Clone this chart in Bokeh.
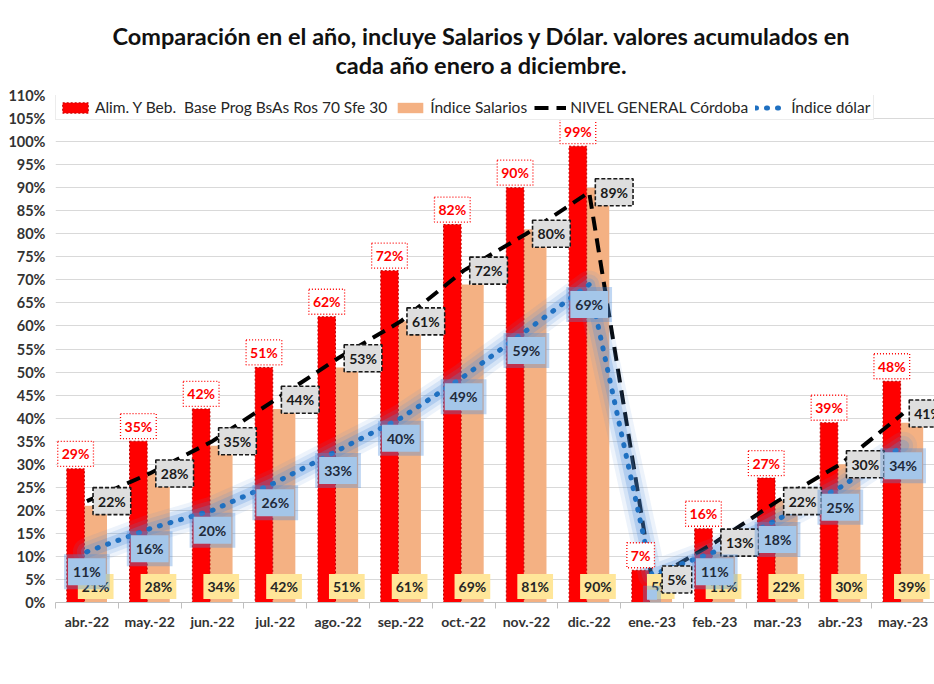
import numpy as np
from bokeh.plotting import figure
from bokeh.models import (Range1d, FixedTicker, PrintfTickFormatter, Legend,
                          LegendItem, Title)
from bokeh.core.properties import value
from bokeh.embed import file_html
from bokeh.resources import INLINE

months = ["abr.-22", "may.-22", "jun.-22", "jul.-22", "ago.-22", "sep.-22",
          "oct.-22", "nov.-22", "dic.-22", "ene.-23", "feb.-23", "mar.-23",
          "abr.-23", "may.-23"]
alim = [29, 35, 42, 51, 62, 72, 82, 90, 99, 7, 16, 27, 39, 48]
salarios = [21, 28, 34, 42, 51, 61, 69, 81, 90, 5, 11, 22, 30, 39]
nivel = [22, 28, 35, 44, 53, 61, 72, 80, 89, 5, 13, 22, 30, 41]
dolar = [11, 16, 20, 26, 33, 40, 49, 59, 69, 6, 11, 18, 25, 34]
dolar_label_shown = [True] * 9 + [False] + [True] * 4
y_ticks = list(range(0, 115, 5))

FONT = value("Lato")
x = np.arange(len(months))

p = figure(width=934, height=684, output_backend="svg", toolbar_location=None,
           x_range=Range1d(-0.5, len(months) - 0.5), y_range=Range1d(0, 110),
           min_border_left=55, min_border_right=0, min_border_top=95,
           min_border_bottom=82)
p.outline_line_color = None
p.background_fill_color = "white"
p.border_fill_color = "white"

# titles
t2 = Title(text="cada año enero a diciembre.", align="left",
           text_font="Lato", text_font_size="23.5px", text_font_style="bold",
           text_color="#111111", standoff=33, offset=280)
t1 = Title(text="Comparación en el año, incluye Salarios y Dólar. valores  acumulados en",
           align="left", text_font="Lato", text_font_size="23.5px",
           text_font_style="bold", text_color="#111111", standoff=0, offset=57)
try:
    t1.standoff = -35
except Exception:
    t1.standoff = 0
p.add_layout(t2, "above")
p.add_layout(t1, "above")

# grid / axes
p.xgrid.grid_line_color = None
p.ygrid.grid_line_color = "#d9d9d9"
p.ygrid.ticker = FixedTicker(ticks=y_ticks)
p.yaxis.ticker = FixedTicker(ticks=y_ticks)
p.yaxis.formatter = PrintfTickFormatter(format="%d%%")
p.yaxis.axis_line_color = None
p.yaxis.major_tick_line_color = None
p.yaxis.minor_tick_line_color = None
p.yaxis.major_label_text_font = "Lato"
p.yaxis.major_label_text_font_size = "14.5px"
p.yaxis.major_label_text_font_style = "bold"
p.yaxis.major_label_text_color = "#333333"
p.yaxis.major_label_standoff = 4

centers = list(range(len(months)))
bounds = [i - 0.5 for i in range(len(months) + 1)]
p.xaxis.ticker = FixedTicker(ticks=centers, minor_ticks=bounds)
p.xaxis.major_label_overrides = {i: m for i, m in enumerate(months)}
p.xaxis.major_tick_out = 0
p.xaxis.major_tick_in = 0
p.xaxis.minor_tick_out = 6
p.xaxis.minor_tick_in = 0
p.xaxis.axis_line_color = "#bfbfbf"
p.xaxis.minor_tick_line_color = "#bfbfbf"
p.xaxis.major_label_text_font = "Lato"
p.xaxis.major_label_text_font_size = "14px"
p.xaxis.major_label_text_font_style = "bold"
p.xaxis.major_label_text_color = "#333333"
p.xaxis.major_label_standoff = 4

# bars
orange = p.vbar(x=x + 0.14, top=salarios, width=0.36, fill_color="#f4b183",
                line_color=None)
red = p.vbar(x=x - 0.18, top=alim, width=0.28, fill_color="#ff0000",
             line_color="#c00000", line_width=1, line_dash="2 2")

# lines
nivel_line = p.line(x, nivel, line_color="black", line_width=4,
                    line_dash="14 8")
for w, a in [(28, 0.10), (20, 0.15), (12, 0.25)]:
    p.line(x, dolar, line_color="#4a8ddc", line_width=w, line_alpha=a,
           line_cap="round", line_join="round")
dollar_line = p.line(x, dolar, line_color="#1f70c1", line_width=5,
                     line_dash="1 10", line_cap="round")

# labels
pct = lambda vals: [f"{v}%" for v in vals]

p.text(x + 0.14, [0] * len(x), text=pct(salarios), y_offset=-16,
       text_align="center", text_baseline="middle", text_font=FONT,
       text_font_size="14px", text_font_style="bold", text_color="#262626",
       background_fill_color="#ffe699", padding=4)

p.text(x - 0.18, alim, text=pct(alim), y_offset=-15,
       text_align="center", text_baseline="middle", text_font=FONT,
       text_font_size="14px", text_font_style="bold", text_color="#ff0000",
       background_fill_color="white", border_line_color="#ff0000",
       border_line_width=1.3, border_line_dash="1 2", padding=4)

p.text(x, nivel, text=pct(nivel), x_offset=25,
       text_align="center", text_baseline="middle", text_font=FONT,
       text_font_size="14px", text_font_style="bold", text_color="#1a1a1a",
       background_fill_color="#dedede", border_line_color="#1a1a1a",
       border_line_width=1.6, border_line_dash="4 2", padding=5)

dtext = [f"{v}%" if s else "" for v, s in zip(dolar, dolar_label_shown)]
p.text(x, dolar, text=dtext, y_offset=20,
       text_align="center", text_baseline="middle", text_font=FONT,
       text_font_size="14px", text_font_style="bold", text_color="#5b9bd5",
       text_alpha=0.0, background_fill_color="#4a8ddc",
       background_fill_alpha=0.35, padding=9)
p.text(x, dolar, text=dtext, y_offset=20,
       text_align="center", text_baseline="middle", text_font=FONT,
       text_font_size="14px", text_font_style="bold", text_color="#1f2a3a",
       background_fill_color="#a4c6e9", padding=5)

# legend
legend = Legend(items=[
    LegendItem(label="Alim. Y Beb.  Base Prog BsAs Ros 70 Sfe 30", renderers=[red]),
    LegendItem(label="Índice Salarios", renderers=[orange]),
    LegendItem(label="NIVEL GENERAL Córdoba", renderers=[nivel_line]),
    LegendItem(label="Índice dólar", renderers=[dollar_line]),
], orientation="horizontal", location=(0, 482), glyph_width=32,
    glyph_height=13, label_standoff=4, spacing=7, padding=3, margin=0,
    border_line_color="#d9d9d9", background_fill_color="white",
    background_fill_alpha=1.0, label_text_font="Lato",
    label_text_font_size="15.5px", label_text_color="#262626")
p.add_layout(legend)

html = file_html(p, INLINE)
open("out.html", "w").write(html)
